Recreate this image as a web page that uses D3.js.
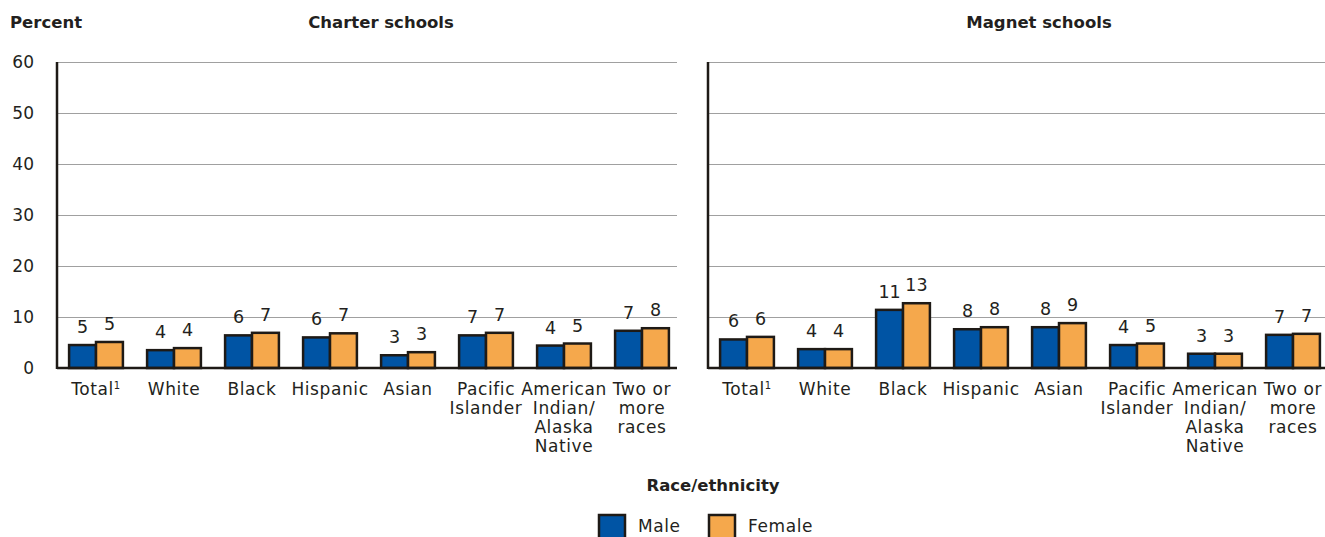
<!DOCTYPE html>
<html>
<head>
<meta charset="utf-8">
<script src="https://cdn.jsdelivr.net/npm/d3@7"></script>
<style>
  html, body { margin: 0; padding: 0; background: #fff; }
  svg { display: block; font-family: "DejaVu Sans", sans-serif; }
</style>
</head>
<body>
<svg id="chart" width="1325" height="537"></svg>
<script>
// ---- data ----
const categories = ["Total", "White", "Black", "Hispanic", "Asian", "Pacific Islander", "American Indian/Alaska Native", "Two or more races"];
const categoryLines = [["Total"], ["White"], ["Black"], ["Hispanic"], ["Asian"], ["Pacific", "Islander"], ["American", "Indian/", "Alaska", "Native"], ["Two or", "more", "races"]];
const panels = ["Charter schools", "Magnet schools"];
const series = ["Male", "Female"];
const charterMale   = [4.5, 3.5, 6.4, 6.0, 2.5, 6.4, 4.4, 7.3];
const charterFemale = [5.1, 3.9, 6.9, 6.8, 3.1, 6.9, 4.8, 7.8];
const charterMaleLabels   = [5, 4, 6, 6, 3, 7, 4, 7];
const charterFemaleLabels = [5, 4, 7, 7, 3, 7, 5, 8];
const magnetMale   = [5.6, 3.7, 11.4, 7.6, 8.0, 4.5, 2.8, 6.5];
const magnetFemale = [6.1, 3.7, 12.7, 8.0, 8.8, 4.8, 2.8, 6.7];
const magnetMaleLabels   = [6, 4, 11, 8, 8, 4, 3, 7];
const magnetFemaleLabels = [6, 4, 13, 8, 9, 5, 3, 7];
const yTicks = [0, 10, 20, 30, 40, 50, 60];

// ---- style / layout ----
const colors = { Male: "#0054a4", Female: "#f5a84c" };
const stroke = "#1e1a16";
const svg = d3.select("#chart");

const y = d3.scaleLinear().domain([0, 60]).range([368, 62]);

const panelData = [
  { title: panels[0], x0: 57, x1: 681, gridEnd: 677, titleX: 381, male: charterMale, female: charterFemale, ml: charterMaleLabels, fl: charterFemaleLabels },
  { title: panels[1], x0: 708, x1: 1332, gridEnd: 1325, titleX: 1039, male: magnetMale, female: magnetFemale, ml: magnetMaleLabels, fl: magnetFemaleLabels }
];

// y tick labels
svg.append("g").selectAll("text").data(yTicks).join("text")
  .attr("x", 34).attr("y", d => y(d) + 6)
  .attr("text-anchor", "end").attr("font-size", 17).attr("fill", "#231f20")
  .text(d => d);

svg.append("text").attr("x", 10).attr("y", 28)
  .attr("font-size", 16.5).attr("font-weight", "bold").attr("fill", "#231f20")
  .text("Percent");

panelData.forEach(p => {
  const g = svg.append("g");
  const x = d3.scaleBand().domain(categories).range([p.x0, p.x1]).paddingInner(0.31).paddingOuter(0.155);
  const xs = d3.scaleBand().domain(series).range([0, x.bandwidth()]);

  // title
  g.append("text").attr("x", p.titleX).attr("y", 28).attr("text-anchor", "middle")
    .attr("font-size", 16.5).attr("font-weight", "bold").attr("fill", "#231f20").text(p.title);

  // gridlines
  g.append("g").selectAll("line").data(yTicks.filter(d => d > 0)).join("line")
    .attr("x1", p.x0).attr("x2", p.gridEnd)
    .attr("y1", d => Math.round(y(d)) + 0.5).attr("y2", d => Math.round(y(d)) + 0.5)
    .attr("stroke", "#a0a0a0").attr("stroke-width", 1);

  // bars
  const rows = categories.map((c, i) => ([
    { c, s: "Male", v: p.male[i], l: p.ml[i] },
    { c, s: "Female", v: p.female[i], l: p.fl[i] }
  ])).flat();

  g.append("g").selectAll("rect").data(rows).join("rect")
    .attr("x", d => x(d.c) + xs(d.s))
    .attr("y", d => y(d.v))
    .attr("width", xs.bandwidth())
    .attr("height", d => y(0) - y(d.v))
    .attr("fill", d => colors[d.s])
    .attr("stroke", stroke).attr("stroke-width", 2.5);

  g.append("g").selectAll("text").data(rows).join("text")
    .attr("x", d => x(d.c) + xs(d.s) + xs.bandwidth() / 2)
    .attr("y", d => y(d.v) - 12)
    .attr("text-anchor", "middle").attr("font-size", 17.5).attr("fill", "#231f20")
    .text(d => d.l);

  // axis lines
  g.append("line").attr("x1", p.x0).attr("x2", p.x0).attr("y1", y(60)).attr("y2", y(0) + 1)
    .attr("stroke", stroke).attr("stroke-width", 2.5);
  g.append("line").attr("x1", p.x0).attr("x2", p.gridEnd).attr("y1", y(0)).attr("y2", y(0))
    .attr("stroke", stroke).attr("stroke-width", 2.5);

  // category labels
  const lab = g.append("g").selectAll("text").data(categories).join("text")
    .attr("x", d => x(d) + x.bandwidth() / 2)
    .attr("y", 395)
    .attr("text-anchor", "middle").attr("font-size", 17).attr("letter-spacing", 0.6).attr("fill", "#231f20");
  lab.each(function(d, i) {
    const t = d3.select(this);
    categoryLines[i].forEach((line, j) => {
      t.append("tspan").attr("x", x(d) + x.bandwidth() / 2).attr("dy", j === 0 ? 0 : 19).text(line);
    });
    if (i === 0) {
      t.append("tspan").attr("font-size", 10).attr("dy", -6).text("1");
    }
  });
});

// legend
svg.append("text").attr("x", 713).attr("y", 491).attr("text-anchor", "middle")
  .attr("font-size", 16.5).attr("font-weight", "bold").attr("fill", "#231f20").text("Race/ethnicity");

const legendX = d3.scaleOrdinal().domain(series).range([599, 709]);
const lg = svg.append("g").selectAll("g").data(series).join("g");
lg.append("rect").attr("x", d => legendX(d)).attr("y", 515).attr("width", 26).attr("height", 26)
  .attr("fill", d => colors[d]).attr("stroke", stroke).attr("stroke-width", 2.5);
lg.append("text").attr("x", d => legendX(d) + 39).attr("y", 532)
  .attr("font-size", 17).attr("letter-spacing", 0.6).attr("fill", "#231f20").text(d => d);
</script>
</body>
</html>
